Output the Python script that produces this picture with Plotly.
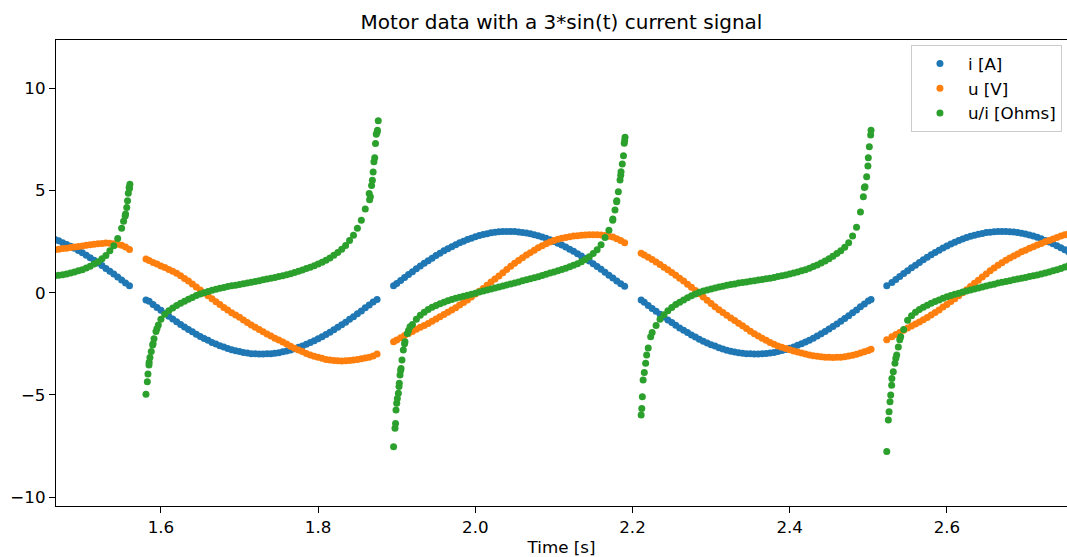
import plotly.graph_objects as go

# ---------------- data ----------------
# time stamps [s], split where the data has gaps (near zero crossings of i)
t_A = [1.465, 1.470, 1.475, 1.480, 1.485, 1.490, 1.495, 1.500, 1.505, 1.510,
       1.515, 1.520, 1.525, 1.530, 1.535, 1.540, 1.545, 1.550, 1.555, 1.560]
t_B = [1.581, 1.585, 1.590, 1.595, 1.600, 1.605, 1.610, 1.615, 1.620, 1.625,
       1.630, 1.635, 1.640, 1.645, 1.650, 1.655, 1.660, 1.665, 1.670, 1.675,
       1.680, 1.685, 1.690, 1.695, 1.700, 1.705, 1.710, 1.715, 1.720, 1.725,
       1.730, 1.735, 1.740, 1.745, 1.750, 1.755, 1.760, 1.765, 1.770, 1.775,
       1.780, 1.785, 1.790, 1.795, 1.800, 1.805, 1.810, 1.815, 1.820, 1.825,
       1.830, 1.835, 1.840, 1.845, 1.850, 1.855, 1.860, 1.865, 1.870, 1.875]
t_C = [1.896, 1.900, 1.905, 1.910, 1.915, 1.920, 1.925, 1.930, 1.935, 1.940,
       1.945, 1.950, 1.955, 1.960, 1.965, 1.970, 1.975, 1.980, 1.985, 1.990,
       1.995, 2.000, 2.005, 2.010, 2.015, 2.020, 2.025, 2.030, 2.035, 2.040,
       2.045, 2.050, 2.055, 2.060, 2.065, 2.070, 2.075, 2.080, 2.085, 2.090,
       2.095, 2.100, 2.105, 2.110, 2.115, 2.120, 2.125, 2.130, 2.135, 2.140,
       2.145, 2.150, 2.155, 2.160, 2.165, 2.170, 2.175, 2.180, 2.185, 2.190]
t_D = [2.211, 2.215, 2.220, 2.225, 2.230, 2.235, 2.240, 2.245, 2.250, 2.255,
       2.260, 2.265, 2.270, 2.275, 2.280, 2.285, 2.290, 2.295, 2.300, 2.305,
       2.310, 2.315, 2.320, 2.325, 2.330, 2.335, 2.340, 2.345, 2.350, 2.355,
       2.360, 2.365, 2.370, 2.375, 2.380, 2.385, 2.390, 2.395, 2.400, 2.405,
       2.410, 2.415, 2.420, 2.425, 2.430, 2.435, 2.440, 2.445, 2.450, 2.455,
       2.460, 2.465, 2.470, 2.475, 2.480, 2.485, 2.490, 2.495, 2.500, 2.5035]
t_E = [2.5235, 2.530, 2.535, 2.540, 2.545, 2.550, 2.555, 2.560, 2.565, 2.570,
       2.575, 2.580, 2.585, 2.590, 2.595, 2.600, 2.605, 2.610, 2.615, 2.620,
       2.625, 2.630, 2.635, 2.640, 2.645, 2.650, 2.655, 2.660, 2.665, 2.670,
       2.675, 2.680, 2.685, 2.690, 2.695, 2.700, 2.705, 2.710, 2.715, 2.720,
       2.725, 2.730, 2.735, 2.740, 2.745, 2.750, 2.755]

# current i [A]
i_A = [2.61, 2.54, 2.45, 2.36, 2.27, 2.17, 2.06, 1.95, 1.83, 1.71,
       1.59, 1.46, 1.33, 1.19, 1.05, 0.91, 0.77, 0.62, 0.47, 0.34]
i_B = [-0.35, -0.42, -0.57, -0.72, -0.86, -1.01, -1.15, -1.28, -1.42, -1.55,
       -1.67, -1.80, -1.91, -2.03, -2.14, -2.24, -2.33, -2.43, -2.51, -2.59,
       -2.66, -2.73, -2.79, -2.84, -2.88, -2.92, -2.95, -2.98, -2.99, -3.00,
       -3.00, -2.99, -2.98, -2.96, -2.93, -2.89, -2.85, -2.80, -2.74, -2.67,
       -2.60, -2.52, -2.44, -2.35, -2.25, -2.15, -2.04, -1.93, -1.81, -1.69,
       -1.57, -1.44, -1.30, -1.17, -1.03, -0.89, -0.74, -0.60, -0.45, -0.33]
i_C = [0.34, 0.45, 0.60, 0.74, 0.89, 1.03, 1.17, 1.31, 1.44, 1.57,
       1.69, 1.82, 1.93, 2.05, 2.15, 2.25, 2.35, 2.44, 2.52, 2.60,
       2.67, 2.74, 2.80, 2.85, 2.89, 2.93, 2.96, 2.98, 2.99, 3.00,
       3.00, 2.99, 2.97, 2.95, 2.92, 2.88, 2.84, 2.79, 2.73, 2.66,
       2.59, 2.51, 2.42, 2.33, 2.24, 2.13, 2.03, 1.91, 1.80, 1.67,
       1.55, 1.42, 1.28, 1.15, 1.00, 0.86, 0.72, 0.57, 0.44, 0.32]
i_D = [-0.36, -0.47, -0.62, -0.77, -0.91, -1.05, -1.19, -1.33, -1.46, -1.59,
       -1.72, -1.84, -1.95, -2.07, -2.17, -2.27, -2.37, -2.46, -2.54, -2.61,
       -2.69, -2.75, -2.81, -2.86, -2.90, -2.93, -2.96, -2.98, -2.99, -3.00,
       -3.00, -2.99, -2.97, -2.95, -2.92, -2.88, -2.83, -2.78, -2.71, -2.65,
       -2.57, -2.50, -2.41, -2.32, -2.22, -2.11, -2.00, -1.89, -1.77, -1.65,
       -1.53, -1.40, -1.26, -1.12, -0.98, -0.84, -0.69, -0.55, -0.40, -0.33]
i_E = [0.34, 0.50, 0.65, 0.79, 0.94, 1.08, 1.22, 1.35, 1.48, 1.61,
       1.74, 1.86, 1.97, 2.08, 2.19, 2.29, 2.38, 2.47, 2.55, 2.63,
       2.70, 2.76, 2.81, 2.86, 2.90, 2.94, 2.96, 2.98, 3.00, 3.00,
       3.00, 2.98, 2.97, 2.94, 2.91, 2.87, 2.82, 2.77, 2.71, 2.64,
       2.56, 2.48, 2.39, 2.30, 2.20, 2.10, 1.99]

# voltage u [V]
u_A = [2.10, 2.13, 2.16, 2.18, 2.21, 2.24, 2.26, 2.29, 2.32, 2.35,
       2.37, 2.40, 2.41, 2.43, 2.42, 2.40, 2.37, 2.32, 2.24, 2.12]
u_B = [1.65, 1.58, 1.48, 1.40, 1.31, 1.23, 1.14, 1.05, 0.95, 0.83,
       0.70, 0.57, 0.43, 0.28, 0.13, -0.01, -0.15, -0.30, -0.44, -0.58,
       -0.72, -0.85, -0.98, -1.09, -1.20, -1.33, -1.46, -1.58, -1.69, -1.80,
       -1.91, -2.02, -2.12, -2.22, -2.31, -2.41, -2.51, -2.62, -2.72, -2.80,
       -2.88, -2.97, -3.05, -3.11, -3.16, -3.21, -3.26, -3.29, -3.32, -3.33,
       -3.34, -3.33, -3.32, -3.29, -3.26, -3.23, -3.19, -3.15, -3.10, -3.00]
u_C = [-2.40, -2.31, -2.20, -2.09, -1.99, -1.89, -1.79, -1.69, -1.60, -1.50,
       -1.40, -1.29, -1.18, -1.06, -0.96, -0.85, -0.73, -0.60, -0.48, -0.36,
       -0.21, -0.06, 0.07, 0.21, 0.37, 0.52, 0.67, 0.82, 0.98, 1.14,
       1.29, 1.44, 1.58, 1.71, 1.84, 1.96, 2.08, 2.20, 2.30, 2.40,
       2.48, 2.55, 2.61, 2.66, 2.70, 2.74, 2.77, 2.79, 2.81, 2.82,
       2.83, 2.84, 2.83, 2.82, 2.80, 2.76, 2.72, 2.64, 2.56, 2.45]
u_D = [1.93, 1.85, 1.74, 1.62, 1.50, 1.38, 1.25, 1.12, 0.99, 0.85,
       0.71, 0.57, 0.42, 0.27, 0.11, -0.05, -0.21, -0.37, -0.53, -0.68,
       -0.83, -0.97, -1.10, -1.23, -1.36, -1.49, -1.62, -1.75, -1.88, -2.00,
       -2.11, -2.22, -2.33, -2.43, -2.52, -2.60, -2.67, -2.73, -2.79, -2.85,
       -2.90, -2.95, -3.00, -3.04, -3.08, -3.11, -3.13, -3.15, -3.16, -3.17,
       -3.16, -3.15, -3.13, -3.10, -3.06, -3.01, -2.95, -2.89, -2.82, -2.77]
u_E = [-2.30, -2.15, -2.04, -1.94, -1.84, -1.73, -1.63, -1.53, -1.43, -1.32,
       -1.21, -1.09, -0.97, -0.84, -0.70, -0.57, -0.43, -0.29, -0.15, 0.00,
       0.15, 0.30, 0.46, 0.61, 0.77, 0.92, 1.07, 1.21, 1.34, 1.47,
       1.59, 1.70, 1.80, 1.90, 2.00, 2.08, 2.17, 2.25, 2.33, 2.41,
       2.49, 2.56, 2.63, 2.70, 2.77, 2.84, 2.89]

# u/i [Ohms]
r_A = [0.82, 0.85, 0.88, 0.92, 0.96, 1.01, 1.07, 1.13, 1.21, 1.30,
       1.40, 1.52, 1.66, 1.82, 2.05, 2.30, 2.65, 3.15, 3.85, 5.10]
r_B = [-4.96, -3.40, -2.50, -1.75, -1.30, -1.05, -0.88, -0.75, -0.63, -0.52,
       -0.42, -0.32, -0.23, -0.14, -0.06, 0.00, 0.06, 0.12, 0.17, 0.22,
       0.26, 0.30, 0.34, 0.37, 0.40, 0.44, 0.47, 0.51, 0.55, 0.59,
       0.63, 0.67, 0.71, 0.75, 0.79, 0.83, 0.88, 0.93, 0.99, 1.05,
       1.11, 1.18, 1.25, 1.32, 1.40, 1.49, 1.59, 1.70, 1.83, 1.97,
       2.13, 2.31, 2.55, 2.81, 3.15, 3.55, 4.10, 4.85, 5.90, 7.85]
r_C = [-7.53, -5.40, -3.80, -2.50, -1.85, -1.55, -1.30, -1.10, -0.95, -0.82,
       -0.71, -0.62, -0.54, -0.46, -0.39, -0.33, -0.27, -0.22, -0.17, -0.12,
       -0.07, -0.02, 0.03, 0.08, 0.13, 0.18, 0.23, 0.28, 0.33, 0.38,
       0.43, 0.48, 0.53, 0.58, 0.63, 0.68, 0.73, 0.78, 0.84, 0.90,
       0.96, 1.01, 1.08, 1.14, 1.20, 1.27, 1.34, 1.42, 1.52, 1.63,
       1.76, 1.92, 2.10, 2.35, 2.70, 3.05, 3.60, 4.50, 5.75, 7.45]
r_D = [-5.98, -3.90, -2.70, -1.95, -1.60, -1.30, -1.08, -0.88, -0.72, -0.58,
       -0.46, -0.35, -0.25, -0.15, -0.06, 0.02, 0.08, 0.13, 0.18, 0.23,
       0.28, 0.32, 0.36, 0.40, 0.43, 0.47, 0.50, 0.53, 0.56, 0.59,
       0.62, 0.65, 0.68, 0.71, 0.75, 0.79, 0.83, 0.87, 0.91, 0.96,
       1.01, 1.07, 1.13, 1.20, 1.28, 1.36, 1.45, 1.55, 1.66, 1.78,
       1.92, 2.05, 2.22, 2.45, 2.78, 3.20, 3.95, 5.15, 6.60, 7.95]
r_E = [-7.77, -4.20, -3.20, -2.30, -1.80, -1.35, -1.12, -0.95, -0.82, -0.71,
       -0.61, -0.51, -0.43, -0.35, -0.27, -0.20, -0.13, -0.07, -0.02, 0.03,
       0.08, 0.13, 0.18, 0.23, 0.28, 0.33, 0.38, 0.42, 0.47, 0.51,
       0.55, 0.59, 0.63, 0.67, 0.71, 0.75, 0.79, 0.83, 0.87, 0.91,
       0.96, 1.01, 1.07, 1.13, 1.19, 1.26, 1.33]

# extra u/i samples read along the steep spikes next to each gap
spike_t = [1.5525, 1.5545, 1.5565, 1.5575, 1.5585, 1.5595, 1.5605,
           1.5827, 1.5835, 1.5848, 1.5860, 1.5877, 1.5895, 1.5912, 1.5937, 1.5967,
           1.8655, 1.8665, 1.868, 1.869, 1.871, 1.872, 1.873, 1.874, 1.8755, 1.8765,
           1.8978, 1.8985, 1.8991, 1.9008, 1.9021, 1.9029, 1.9033, 1.9042, 1.9055,
           1.9067, 1.9084, 1.9105, 1.9135, 1.9169,
           2.1748, 2.1777, 2.1798, 2.182, 2.1841, 2.1854, 2.187, 2.1885, 2.1895, 2.1905,
           2.2118, 2.2125, 2.2135, 2.2167, 2.218, 2.2231,
           2.4937, 2.4958, 2.4979, 2.4995, 2.5013, 2.503,
           2.5255, 2.5264, 2.5276, 2.5285, 2.5297, 2.5318, 2.5339, 2.5361, 2.5382, 2.5412]
spike_r = [3.50, 3.75, 4.17, 4.50, 4.86, 5.15, 5.31,
           -4.35, -3.97, -3.53, -3.17, -2.87, -2.56, -2.25, -1.90, -1.58,
           4.55, 4.70, 5.25, 5.50, 6.40, 6.60, 7.30, 7.75, 7.95, 8.41,
           -6.63, -6.39, -5.74, -5.17, -4.92, -4.59, -4.43, -4.02, -3.70,
           -3.29, -2.80, -2.40, -1.99, -1.66,
           3.55, 4.04, 4.45, 4.94, 5.51, 5.92, 6.30, 6.70, 7.31, 7.60,
           -5.66, -5.09, -4.27, -3.45, -3.05, -2.15,
           4.70, 5.18, 5.67, 6.20, 7.14, 7.71,
           -6.22, -5.82, -5.33, -5.00, -4.52, -3.86, -3.45, -3.05, -2.65, -2.15]

x_ticks = [1.6, 1.8, 2.0, 2.2, 2.4, 2.6]
x_tick_labels = ["1.6", "1.8", "2.0", "2.2", "2.4", "2.6"]
y_ticks = [-10, -5, 0, 5, 10]
y_tick_labels = ["\u221210", "\u22125", "0", "5", "10"]

# ---------------- figure ----------------
time = t_A + t_B + t_C + t_D + t_E
current = i_A + i_B + i_C + i_D + i_E
voltage = u_A + u_B + u_C + u_D + u_E
ratio = r_A + r_B + r_C + r_D + r_E

fig = go.Figure()
series = [
    ("i [A]", time, current, "#1f77b4"),
    ("u [V]", time, voltage, "#ff7f0e"),
    ("u/i [Ohms]", time + spike_t, ratio + spike_r, "#2ca02c"),
]
for name, xs, ys, col in series:
    fig.add_trace(go.Scatter(
        x=xs, y=ys, mode="markers", name=name,
        marker=dict(color=col, size=7, line=dict(width=0)),
    ))

TXT = 16.7
fig.update_layout(
    width=1067, height=557,
    margin=dict(l=56, r=0, t=40, b=51),
    plot_bgcolor="white", paper_bgcolor="white",
    font=dict(family="DejaVu Sans", size=TXT, color="black"),
    title=dict(text="Motor data with a 3*sin(t) current signal",
               x=0.5, xref="paper", xanchor="center",
               y=1 - 22 / 557, yref="container", yanchor="middle",
               font=dict(size=20, color="black")),
    legend=dict(x=0.995, y=0.989, xanchor="right", yanchor="top",
                bgcolor="rgba(255,255,255,0.8)", bordercolor="#cccccc",
                borderwidth=1, font=dict(size=TXT), itemwidth=46),
)
fig.update_xaxes(
    range=[1.4665, 2.7528], tickvals=x_ticks, ticktext=x_tick_labels,
    tickfont=dict(size=TXT), automargin=False,
    showgrid=False, zeroline=False, showline=True, linecolor="black",
    linewidth=1.3, mirror=True, ticks="outside", ticklen=6, tickwidth=1.3,
    tickcolor="black",
    title=dict(text="Time [s]", standoff=5, font=dict(size=TXT)),
)
fig.update_yaxes(
    range=[-10.43, 12.36], tickvals=y_ticks, ticktext=y_tick_labels,
    tickfont=dict(size=TXT), automargin=False,
    showgrid=False, zeroline=False, showline=True, linecolor="black",
    linewidth=1.3, mirror=False, ticks="outside", ticklen=6, tickwidth=1.3,
    tickcolor="black",
)

fig.write_html("out.html")
